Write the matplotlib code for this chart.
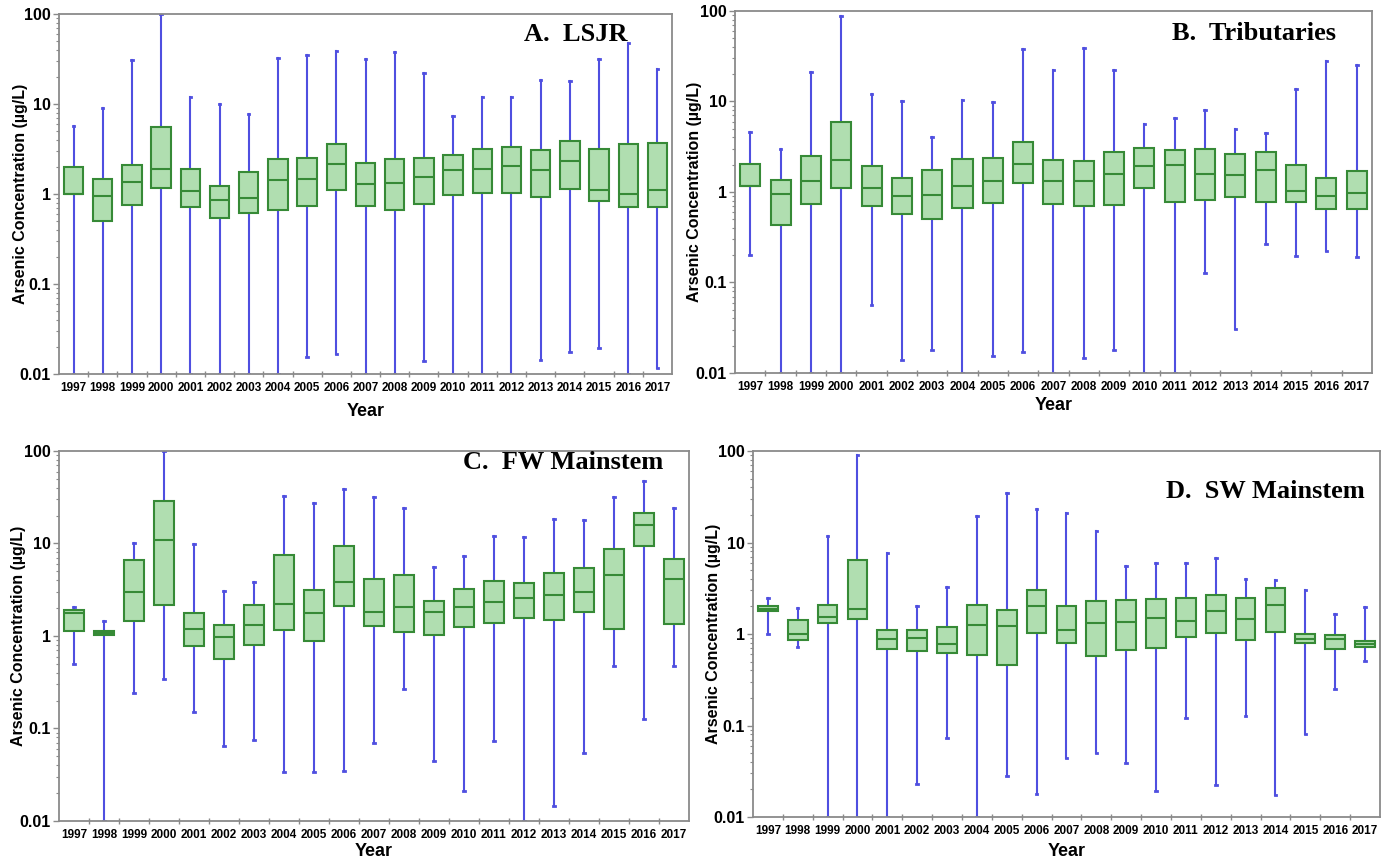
import matplotlib
matplotlib.use("Agg")
import matplotlib.pyplot as plt
from matplotlib.ticker import FixedLocator, NullFormatter, LogLocator

years = [str(y) for y in range(1997, 2018)]

# (whisker low, Q1, median, Q3, whisker high) per year
lsjr_lo  = [0.01, 0.01, 0.01, 0.01, 0.01, 0.01, 0.01, 0.01, 0.0155, 0.0167, 0.01, 0.01, 0.0139, 0.01, 0.01, 0.01, 0.0143, 0.0176, 0.0194, 0.01, 0.0117]
lsjr_q1  = [1.0, 0.5, 0.76, 1.17, 0.72, 0.54, 0.62, 0.66, 0.74, 1.1, 0.74, 0.66, 0.77, 0.97, 1.03, 1.03, 0.93, 1.13, 0.84, 0.72, 0.72]
lsjr_med = [1.0, 0.95, 1.36, 1.9, 1.08, 0.86, 0.9, 1.43, 1.47, 2.15, 1.29, 1.32, 1.55, 1.85, 1.9, 2.05, 1.85, 2.33, 1.1, 1.0, 1.1]
lsjr_q3  = [2.0, 1.47, 2.1, 5.55, 1.9, 1.23, 1.76, 2.45, 2.5, 3.6, 2.21, 2.45, 2.51, 2.71, 3.16, 3.33, 3.08, 3.88, 3.16, 3.6, 3.68]
lsjr_hi  = [5.7, 9.0, 30.6, 100, 11.9, 10.0, 7.7, 32.6, 35, 38.7, 31.6, 37.8, 22, 7.4, 11.9, 11.9, 18.5, 18, 31.6, 47.6, 24.5]

trib_lo  = [0.2, 0.01, 0.01, 0.01, 0.0557, 0.014, 0.018, 0.01, 0.0154, 0.0169, 0.01, 0.0146, 0.018, 0.01, 0.01, 0.128, 0.031, 0.265, 0.198, 0.22, 0.192]
trib_q1  = [1.155, 0.43, 0.74, 1.107, 0.7, 0.577, 0.5, 0.66, 0.75, 1.25, 0.74, 0.695, 0.725, 1.116, 0.776, 0.816, 0.89, 0.77, 0.776, 0.65, 0.65]
trib_med = [1.155, 0.96, 1.31, 2.25, 1.107, 0.9, 0.93, 1.17, 1.31, 2.05, 1.31, 1.31, 1.59, 1.94, 1.97, 1.59, 1.54, 1.76, 1.03, 0.91, 0.97]
trib_q3  = [2.04, 1.34, 2.52, 5.87, 1.94, 1.43, 1.75, 2.31, 2.37, 3.53, 2.23, 2.2, 2.79, 3.06, 2.93, 3.0, 2.62, 2.79, 2.0, 1.41, 1.69]
trib_hi  = [4.55, 2.96, 20.9, 88, 12, 10.2, 4.0, 10.4, 9.8, 38.4, 22.3, 38.7, 22.3, 5.62, 6.6, 8.0, 4.95, 4.47, 13.9, 28.1, 25.1]

fw_lo  = [0.5, 0.01, 0.24, 0.34, 0.149, 0.064, 0.075, 0.034, 0.034, 0.035, 0.069, 0.27, 0.045, 0.021, 0.073, 0.01, 0.0145, 0.054, 0.47, 0.127, 0.477]
fw_q1  = [1.14, 1.03, 1.44, 2.17, 0.78, 0.57, 0.79, 1.15, 0.875, 2.13, 1.29, 1.11, 1.025, 1.24, 1.37, 1.55, 1.5, 1.8, 1.2, 9.5, 1.35]
fw_med = [1.77, 1.09, 2.97, 11.0, 1.18, 0.975, 1.32, 2.2, 1.77, 3.88, 1.8, 2.08, 1.82, 2.04, 2.33, 2.6, 2.76, 3.0, 4.54, 15.8, 4.1]
fw_q3  = [1.93, 1.14, 6.6, 29.0, 1.76, 1.32, 2.17, 7.54, 3.12, 9.5, 4.11, 4.58, 2.41, 3.25, 3.97, 3.78, 4.81, 5.5, 8.75, 21.3, 6.82]
fw_hi  = [2.04, 1.47, 10.2, 100, 9.9, 3.1, 3.88, 32.8, 27.3, 39, 31.5, 24.5, 5.63, 7.35, 12.1, 11.8, 18.4, 18, 31.5, 47.3, 24.1]

sw_lo  = [0.99, 0.73, 0.01, 0.01, 0.01, 0.023, 0.073, 0.01, 0.028, 0.0177, 0.0444, 0.05, 0.039, 0.019, 0.121, 0.0223, 0.127, 0.0172, 0.081, 0.25, 0.51]
sw_q1  = [1.77, 0.87, 1.31, 1.45, 0.69, 0.65, 0.62, 0.585, 0.455, 1.02, 0.79, 0.58, 0.675, 0.71, 0.92, 1.025, 0.85, 1.06, 0.79, 0.68, 0.715]
sw_med = [1.87, 0.99, 1.53, 1.86, 0.88, 0.9, 0.78, 1.25, 1.21, 2.0, 1.1, 1.31, 1.34, 1.49, 1.4, 1.78, 1.45, 2.07, 0.88, 0.88, 0.77]
sw_q3  = [2.0, 1.41, 2.1, 6.47, 1.1, 1.1, 1.19, 2.1, 1.84, 3.0, 2.04, 2.27, 2.33, 2.39, 2.49, 2.7, 2.45, 3.15, 0.99, 0.98, 0.84]
sw_hi  = [2.45, 1.92, 11.8, 89.7, 7.7, 2.04, 3.28, 19.7, 35, 23.1, 20.9, 13.4, 5.6, 5.9, 5.95, 6.7, 4.0, 3.88, 3.0, 1.65, 1.95]

panels = [
    ("A.  LSJR", (lsjr_lo, lsjr_q1, lsjr_med, lsjr_q3, lsjr_hi)),
    ("B.  Tributaries", (trib_lo, trib_q1, trib_med, trib_q3, trib_hi)),
    ("C.  FW Mainstem", (fw_lo, fw_q1, fw_med, fw_q3, fw_hi)),
    ("D.  SW Mainstem", (sw_lo, sw_q1, sw_med, sw_q3, sw_hi)),
]

# axes rectangles [left, bottom, width, height] in figure fraction
rects = [
    [0.0424, 0.5666, 0.4411, 0.4172],
    [0.5288, 0.5678, 0.4582, 0.4195],
    [0.0424, 0.0487, 0.4533, 0.4287],
    [0.5417, 0.0533, 0.4511, 0.4241],
]
title_pos = [(0.928, 0.942), (0.943, 0.937), (0.959, 0.968), (0.976, 0.888)]
ylabel_x = [-0.051, -0.052, -0.052, -0.051]
xlabel_pad = [6, 3, 1, 4]

plt.rcParams['font.family'] = ['Liberation Sans', 'DejaVu Sans']

fig = plt.figure(figsize=(13.9, 8.63), dpi=100)

box_face = '#b0deb0'
box_edge = '#368a36'
whisk = '#4f4fe0'
spine_c = '#8a8a8a'

for (title, (lo, q1, med, q3, hi)), rect, tp, ylx, xlp in zip(panels, rects, title_pos, ylabel_x, xlabel_pad):
    ax = fig.add_axes(rect)
    stats = []
    for i in range(len(years)):
        stats.append(dict(whislo=lo[i], q1=q1[i], med=med[i], q3=q3[i], whishi=hi[i], fliers=[], label=years[i]))
    positions = list(range(1, len(years) + 1))
    res = ax.bxp(stats, positions=positions, widths=0.66, patch_artist=True, showfliers=False,
                 capwidths=0.05,
                 boxprops=dict(facecolor=box_face, edgecolor=box_edge, linewidth=1.5),
                 medianprops=dict(color=box_edge, linewidth=1.5),
                 whiskerprops=dict(color=whisk, linewidth=1.5),
                 capprops=dict(color=whisk, linewidth=2.0), manage_ticks=False)
    for b in res['boxes']:
        b.set_zorder(3)
    for m in res['medians']:
        m.set_zorder(4)
    for w in res['whiskers'] + res['caps']:
        w.set_zorder(2)
    ax.set_yscale('log')
    ax.set_ylim(0.01, 100)
    ax.set_xlim(0.5, len(years) + 0.5)
    ax.set_yticks([0.01, 0.1, 1, 10, 100])
    ax.set_yticklabels(['0.01', '0.1', '1', '10', '100'], fontsize=11.5, fontweight='bold')
    ax.yaxis.set_minor_locator(LogLocator(base=10, subs=range(2, 10)))
    ax.yaxis.set_minor_formatter(NullFormatter())
    ax.tick_params(axis='y', which='major', length=4, width=1, color=spine_c, direction='out', pad=2)
    ax.tick_params(axis='y', which='minor', length=2, width=0.8, color=spine_c, direction='out')
    ax.set_xticks(positions)
    ax.set_xticklabels(years, fontsize=8.5, fontweight='bold')
    ax.tick_params(axis='x', which='major', length=0, pad=6)
    ax.xaxis.set_minor_locator(FixedLocator([p + 0.5 for p in positions[:-1]]))
    ax.tick_params(axis='x', which='minor', length=4, width=1, color=spine_c, direction='inout')
    for s in ax.spines.values():
        s.set_color(spine_c)
        s.set_linewidth(1.3)
    ax.set_xlabel('Year', fontsize=13, fontweight='bold', labelpad=xlp)
    ax.set_ylabel('Arsenic Concentration (\u00b5g/L)', fontsize=11.5, fontweight='bold')
    ax.yaxis.set_label_coords(ylx, 0.5)
    ax.text(tp[0], tp[1], title, transform=ax.transAxes, ha='right', va='center',
            fontsize=19, fontweight='bold', family=['Liberation Serif', 'DejaVu Serif'], zorder=5)

fig.savefig('out.png', dpi=100)
